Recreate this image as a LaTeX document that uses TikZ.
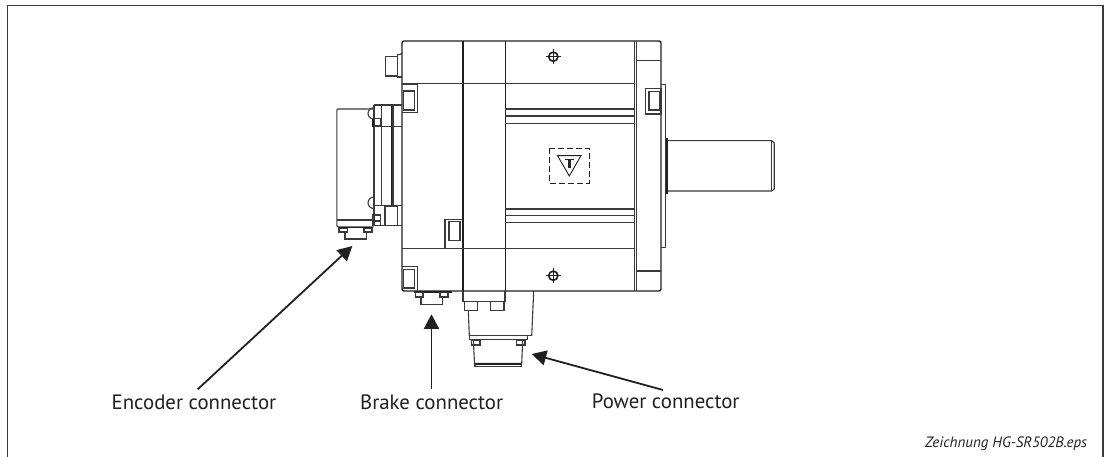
\documentclass[tikz,border=0pt]{standalone}
\usepackage{fontspec}
\setmainfont{PT Sans}
\usetikzlibrary{arrows.meta}
\definecolor{ink}{HTML}{231F20}
\definecolor{mid}{HTML}{3A3A3A}
\tikzset{
  frameline/.style={draw=mid,line width=1.4pt},
  heavy/.style={draw=ink,line width=1.4pt},
  part/.style={draw=mid,line width=1.1pt},
  pointer/.style={draw=ink,line width=1.8pt,-{Triangle[length=14.5pt,width=15pt]}},
  label/.style={anchor=base west,inner sep=0pt,text=ink,font=\fontsize{20.8}{24}\selectfont},
  caption/.style={anchor=base east,inner sep=0pt,text=ink,font=\fontsize{15}{18}\selectfont\itshape},
}
\begin{document}
\begin{tikzpicture}[x=1pt,y=-1pt]
\useasboundingbox (0,0) rectangle (1105,457);
\fill[white] (0,0) rectangle (1105,457);
% frame
\draw[frameline] (7.3,457) -- (7.3,5.6) -- (1102.8,5.6) -- (1102.8,457);
% ---- motor body
\draw[heavy,rounded corners=2pt] (402,291) -- (402,41) -- (661,41) -- (661,291) -- cycle;
\draw[heavy] (463,41) -- (463,291);
\draw[heavy] (505.3,41) -- (505.3,291);
\draw[part] (634.2,41) -- (634.2,291);
\draw[part] (636.2,41) -- (636.2,291);
\draw[part] (402,83.5) -- (634,83.5);
\draw[part] (402,248.3) -- (634,248.3);
\draw[part] (636,60.7) -- (661,60.7);
\draw[part] (636,271) -- (661,271);
\foreach \yy in {109,116,123.3,209,215.7,222.7}{\draw[part] (505.3,\yy) -- (634,\yy);}
% rear cap stub
\draw[part] (385.7,56.7) rectangle (397.3,76);
\draw[part] (397.3,54.5) -- (400,54.5) -- (402,53);
\draw[part] (397.3,77) -- (402,77);
\draw[part] (397.3,54.5) -- (397.3,77);
% corner pockets
\draw[part] (402,84) -- (417.7,84) -- (417.7,112.7) -- (402,112.7);
\draw[part] (403.5,91) -- (414.3,91) -- (414.3,110) -- (403.5,110) -- cycle;
\draw[part] (402,266.7) -- (417.7,266.7) -- (417.7,290.7);
\draw[part] (403.5,269.5) -- (414.3,269.5) -- (414.3,288) -- (403.5,288) -- cycle;
\draw[part] (445,248) -- (445,219.5) -- (462,219.5);
\draw[part] (449,221.8) -- (460,221.8) -- (460,240.8) -- (449,240.8) -- cycle;
% mounting marks
\foreach \yy in {56.7,275.7}{
  \draw[ink,line width=1.6pt] (553.3,\yy) circle (4.6pt);
  \draw[ink,line width=1pt] (546,\yy) -- (560.6,\yy) (553.3,\yy-7.3) -- (553.3,\yy+7.3);
}
% front flange plate and pocket
\draw[part] (661,84.3) -- (665.7,84.3) -- (665.7,247.3) -- (661,247.3);
\draw[part] (645.7,88.3) rectangle (661,114);
\draw[part] (649,91.7) rectangle (660,110);
% shaft
\draw[part] (667,140.7) -- (771.7,140.7) -- (774.2,143) -- (774.2,189) -- (771.7,191) -- (667,191);
\draw[part] (771.9,141) -- (771.9,191);
\draw[heavy,line width=2pt] (666.7,138.5) -- (666.7,194);
% warning symbol
\draw[ink,line width=0.9pt,dash pattern=on 6pt off 3pt] (549.3,148.3) rectangle (589,183.3);
\draw[ink,line width=0.9pt] (557.5,155.6) -- (581,155.6) -- (569.3,176) -- cycle;
\draw[ink,line width=0.9pt] (565,159.2) -- (573.6,159.2);
\fill[ink] (568,159.2) rectangle (570.8,168);
% ---- encoder
\draw[part,rounded corners=1pt] (373.5,109) -- (336.8,109) -- (336.8,226.8) -- (373.5,226.8);
\draw[part] (336.8,220) -- (373.5,220);
\draw[part] (374,105) -- (401.7,105);
\draw[part] (374,105) -- (374,225.8) -- (401.7,225.8);
\draw[part] (381.7,105) -- (381.7,206);
\draw[heavy] (391.2,105) -- (391.2,205);
\draw[part] (393,105) -- (393,205);
\draw[part] (374,126.7) -- (401.7,126.7);
\draw[part] (374,205.5) -- (401.7,205.5);
\draw[part] (385,206.5) rectangle (397.3,225.8);
\draw[part] (374,107.7) arc[start angle=90,end angle=270,x radius=6pt,y radius=5.7pt];
\draw[part] (374,197) arc[start angle=90,end angle=270,x radius=6pt,y radius=5.8pt];
\draw[part] (373,118.5) rectangle (380.7,125.5);
\draw[part] (373,215) rectangle (380.7,221);
\draw[part] (373,221) rectangle (380.7,225.5);
\draw[heavy] (373,119) -- (373,127);
\draw[part] (339,228) rectangle (347.7,232);
\draw[part] (364,228) rectangle (372,232);
\draw[part] (345,232) -- (345,239) -- (366.7,239) -- (366.7,232);
\draw[heavy] (339,227.5) -- (372,227.5);
% ---- brake connector
\draw[heavy] (414,292) -- (451.7,292);
\draw[part] (415.7,292.5) rectangle (423,297);
\draw[part] (440,292.5) rectangle (448,297);
\draw[part] (421,297) -- (421,304.3) -- (442.7,304.3) -- (442.7,297);
% ---- power connector
\draw[part] (463,291) -- (463,301.7) -- (505,301.7) -- (505,291);
\draw[part] (464.3,301.7) rectangle (477.3,310.3);
\draw[part] (490.7,301.7) rectangle (504,310.3);
\draw[part] (468.3,310.3) -- (469.3,335.7);
\draw[part] (531.7,335.7) -- (533.7,291);
\draw[part] (469.3,335.7) -- (531.7,335.7);
\draw[part] (469.3,335.7) rectangle (527.7,339.7);
\draw[part] (471.7,340) rectangle (480,345);
\draw[part] (516.7,340) rectangle (525,345);
\draw[part] (473.3,339.7) -- (474.5,363.3) -- (521.7,363.3) -- (522.7,339.7);
\draw[heavy] (475,363.8) -- (521.7,363.8);
\draw[part] (475,363.3) -- (475,366.7) -- (521.7,366.7) -- (521.7,363.3);
% ---- labels and pointers
\node[label] (enc) at (111.5,409) {Encoder connector};
\node[label] (brk) at (360,409) {Brake connector};
\node[label] (pwr) at (591.7,408) {Power connector};
\node[caption] (cap) at (1087.3,447) {Zeichnung HG-SR502B.eps};
\coordinate (encTip) at (352.3,246);
\coordinate (encTail) at (197.7,389.3);
\coordinate (brkTip) at (431.5,314.3);
\coordinate (brkTail) at (431.5,389.3);
\coordinate (pwrTip) at (531.7,354);
\coordinate (pwrTail) at (663,390);
\draw[pointer] (encTail) -- (encTip);
\draw[pointer] (brkTail) -- (brkTip);
\draw[pointer] (pwrTail) -- (pwrTip);
\end{tikzpicture}
\end{document}
